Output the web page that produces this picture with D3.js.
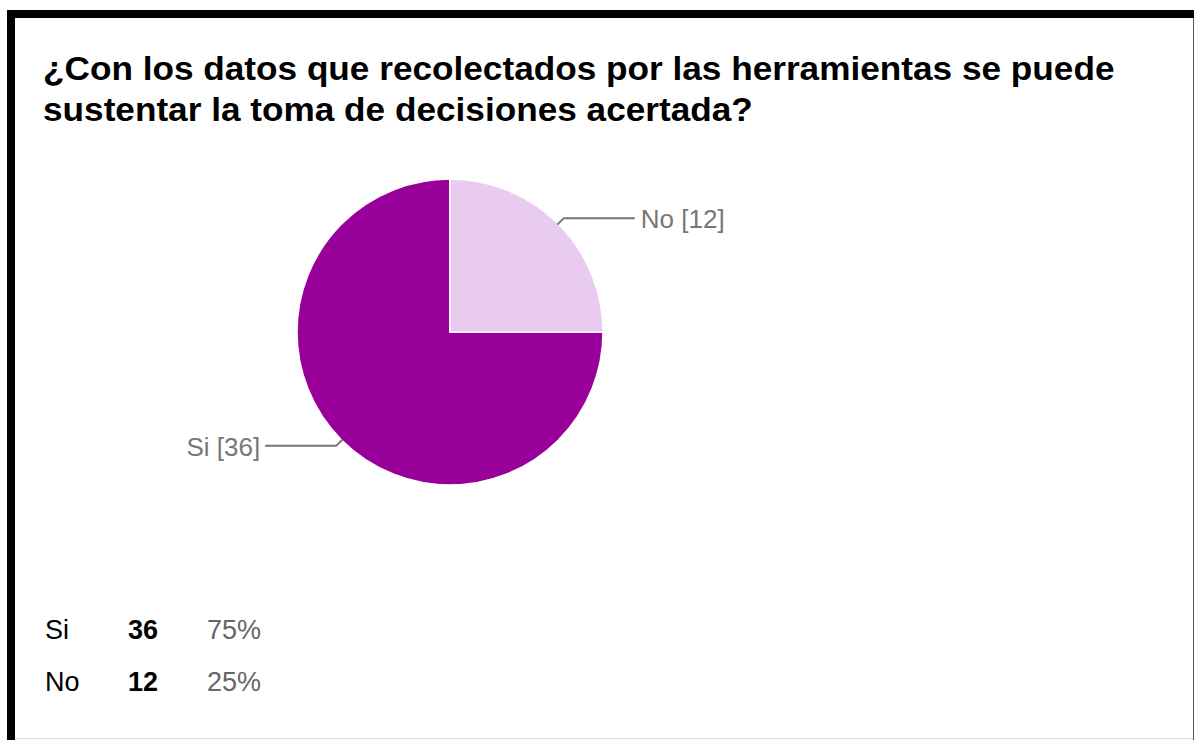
<!DOCTYPE html>
<html>
<head>
<meta charset="utf-8">
<script src="https://cdn.jsdelivr.net/npm/d3@7"></script>
<style>
  html, body { margin: 0; padding: 0; background: #fff; }
  svg { display: block; }
  text { font-family: Arial, "Liberation Sans", sans-serif; }
</style>
</head>
<body>
<svg id="chart" width="1194" height="740"></svg>
<script>
// datos
let titleLines = ['¿Con los datos que recolectados por las herramientas se puede',
                  'sustentar la toma de decisiones acertada?']
let answers = ['Si', 'No']
let counts = [36, 12]
let colors = ['#990099', '#e8cbee']

let W = 1194, H = 740
let svg = d3.select('#chart')

// marco
svg.append('rect').attr('x', 7).attr('y', 10).attr('width', W - 7).attr('height', 8).attr('fill', '#000')
svg.append('rect').attr('x', 7).attr('y', 10).attr('width', 8).attr('height', H - 10).attr('fill', '#000')
svg.append('line').attr('x1', 1193.5).attr('y1', 18).attr('x2', 1193.5).attr('y2', H).attr('stroke', '#555')
svg.append('line').attr('x1', 15).attr('y1', 738.5).attr('x2', 1193).attr('y2', 738.5).attr('stroke', '#ddd')

// titulo
svg.selectAll('.title').data(titleLines).enter().append('text')
  .attr('class', 'title')
  .attr('transform', (d, i) => `translate(43,${80 + i * 41}) scale(1.035,1)`)
  .attr('font-size', 34)
  .attr('font-weight', 'bold')
  .attr('fill', '#000')
  .text(d => d)

// pastel
let cx = 450, cy = 332, r = 153
let data = answers.map((a, i) => ({ name: a, value: counts[i], color: colors[i] }))
let total = d3.sum(counts)

let pie = d3.pie().sort(null).value(d => d.value)
  .startAngle(Math.PI / 2).endAngle(Math.PI / 2 + 2 * Math.PI)
let arcs = pie(data)
let arc = d3.arc().innerRadius(0).outerRadius(r)

let g = svg.append('g').attr('transform', `translate(${cx},${cy})`)

g.selectAll('path').data(arcs).enter().append('path')
  .attr('d', arc)
  .attr('fill', d => d.data.color)
  .attr('stroke', '#fff')
  .attr('stroke-width', 1.5)

// etiquetas con linea
let lineLen = 71
arcs.forEach(d => {
  let mid = (d.startAngle + d.endAngle) / 2
  let p0 = [Math.sin(mid) * (r - 1), -Math.cos(mid) * (r - 1)]
  let p1 = [Math.sin(mid) * (r + 8), -Math.cos(mid) * (r + 8)]
  let right = Math.sin(mid) > 0
  let p2 = [p1[0] + (right ? lineLen : -lineLen), p1[1]]
  g.append('polyline')
    .attr('points', [p0, p1, p2].map(p => p.join(',')).join(' '))
    .attr('fill', 'none')
    .attr('stroke', '#777')
    .attr('stroke-width', 2)
  g.append('text')
    .attr('x', p2[0] + (right ? 6 : -5))
    .attr('y', p2[1] + 10)
    .attr('text-anchor', right ? 'start' : 'end')
    .attr('font-size', 26)
    .attr('fill', '#777')
    .text(`${d.data.name} [${d.data.value}]`)
})

// tabla resumen
let fmt = d3.format('.0%')
let rows = svg.selectAll('.row').data(data).enter().append('g')
  .attr('class', 'row')
  .attr('transform', (d, i) => `translate(0,${639 + i * 52})`)

rows.append('text').attr('x', 45).attr('font-size', 27).attr('fill', '#000').text(d => d.name)
rows.append('text').attr('x', 128).attr('font-size', 27).attr('font-weight', 'bold').attr('fill', '#000').text(d => d.value)
rows.append('text').attr('x', 207).attr('font-size', 27).attr('fill', '#666').text(d => fmt(d.value / total))
</script>
</body>
</html>
